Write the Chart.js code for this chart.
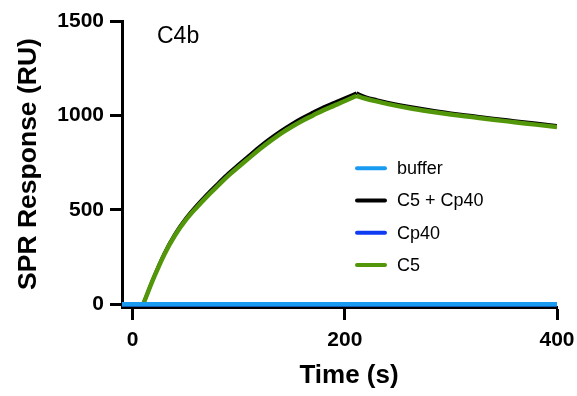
<!DOCTYPE html>
<html><head><meta charset="utf-8">
<script src="https://cdn.jsdelivr.net/npm/chart.js@4/dist/chart.umd.min.js"></script>
<style>html,body{margin:0;padding:0;background:#fff}#wrap{width:577px;height:396px}</style>
</head><body><div id="wrap"><canvas id="c" width="577" height="396"></canvas></div>
<script>
// ---- data ----
const seriesNames = ['buffer', 'C5 + Cp40', 'Cp40', 'C5'];
const bufferTime = [-10, 400];
const bufferValues = [0, 0];
const cp40Time = [-10, 400];
const cp40Values = [0, 0];
// association phase (injection) and dissociation phase (wash) for each binding series
const c5cp40AssocTime = [10, 20, 30, 40, 50, 60, 70, 80, 90, 100, 110, 120, 130, 140, 150, 160, 170, 180, 190, 200, 211];
const c5cp40AssocValues = [0, 143, 270, 372, 453, 520, 581, 637, 692, 741, 789, 836, 879, 919, 955, 987, 1016, 1044, 1068, 1092, 1118];
const c5cp40DissocTime = [211, 220, 230, 240, 260, 280, 300, 320, 340, 360, 380, 400];
const c5cp40DissocValues = [1118, 1097, 1082, 1069, 1047, 1028, 1012, 998, 984, 971, 958, 945];
const c5AssocTime = [10, 20, 30, 40, 50, 60, 70, 80, 90, 100, 110, 120, 130, 140, 150, 160, 170, 180, 190, 200, 211];
const c5AssocValues = [0, 140, 265, 365, 445, 510, 570, 625, 680, 728, 775, 822, 865, 905, 940, 972, 1000, 1028, 1052, 1076, 1104];
const c5DissocTime = [211, 220, 230, 240, 260, 280, 300, 320, 340, 360, 380, 400];
const c5DissocValues = [1104, 1088, 1074, 1061, 1039, 1021, 1005, 991, 977, 964, 951, 938];
const xTicks = [0, 200, 400];
const yTicks = [0, 500, 1000, 1500];
const panelLabel = 'C4b';
const xTitle = 'Time (s)';
const yTitle = 'SPR Response (RU)';

const colors = { 'buffer': '#1a9bf2', 'C5 + Cp40': '#000000', 'Cp40': '#0f3cf2', 'C5': '#52960a' };
const widths = { 'buffer': 4.5, 'C5 + Cp40': 3.5, 'Cp40': 4.5, 'C5': 4.5 };
const zip = (t, v) => t.map((x, i) => ({ x: x, y: v[i] }));

const mk = (name, t, v, order) => ({
  label: name, data: zip(t, v), borderColor: colors[name], borderWidth: widths[name], order: order,
  showLine: true, pointRadius: 0, cubicInterpolationMode: 'monotone', fill: false,
  borderCapStyle: 'butt', borderJoinStyle: 'round'
});

const datasets = [
  mk('buffer', bufferTime, bufferValues, 0),
  mk('C5', c5AssocTime, c5AssocValues, 1),
  mk('C5', c5DissocTime, c5DissocValues, 1),
  mk('C5 + Cp40', c5cp40AssocTime, c5cp40AssocValues, 2),
  mk('C5 + Cp40', c5cp40DissocTime, c5cp40DissocValues, 2),
  mk('Cp40', cp40Time, cp40Values, 3)
];

const overlay = {
  id: 'overlay',
  afterDatasetsDraw(chart) {
    const ctx = chart.ctx;
    ctx.save();
    ctx.fillStyle = '#000';
    ctx.textBaseline = 'middle';
    ctx.textAlign = 'left';
    ctx.font = '23px "Liberation Sans", Arial, sans-serif';
    ctx.fillText(panelLabel, 157, 37);
    ctx.font = '18px "Liberation Sans", Arial, sans-serif';
    const x0 = 357, x1 = 385, y0 = 168.3, dy = 32.2;
    seriesNames.forEach((name, i) => {
      const y = y0 + i * dy;
      ctx.strokeStyle = colors[name];
      ctx.lineWidth = 4;
      ctx.lineCap = 'round';
      ctx.beginPath(); ctx.moveTo(x0, y); ctx.lineTo(x1, y); ctx.stroke();
      ctx.fillStyle = '#000';
      ctx.fillText(name, 397, y + 1);
    });
    ctx.font = 'bold 26px "Liberation Sans", Arial, sans-serif';
    ctx.textAlign = 'center';
    ctx.fillText(xTitle, 349, 376);
    ctx.restore();
  }
};

const tickFont = { family: '"Liberation Sans", Arial, sans-serif', size: 21, weight: 'bold' };
const titleFont = { family: '"Liberation Sans", Arial, sans-serif', size: 26.5, weight: 'bold', lineHeight: 1 };

new Chart(document.getElementById('c'), {
  type: 'scatter',
  data: { datasets: datasets },
  plugins: [overlay],
  options: {
    responsive: false,
    animation: false,
    devicePixelRatio: 1,
    layout: { padding: { top: 21, right: 20, left: 0, bottom: 0 } },
    plugins: { legend: { display: false }, tooltip: { enabled: false } },
    scales: {
      x: {
        type: 'linear', min: -10, max: 400,
        afterBuildTicks: s => { s.ticks = xTicks.map(v => ({ value: v })); },
        afterFit: s => { s.height = 89; s.paddingLeft = 0; s.paddingRight = 0; },
        grid: { drawOnChartArea: false, tickLength: 13, tickWidth: 3, tickColor: '#000' },
        border: { color: '#000', width: 3 },
        ticks: { color: '#000', font: tickFont, padding: 8, maxRotation: 0, callback: v => String(v) },
        title: { display: false }
      },
      y: {
        type: 'linear', min: -15, max: 1500,
        afterBuildTicks: s => { s.ticks = yTicks.map(v => ({ value: v })); },
        afterFit: s => { s.width = 122; s.paddingTop = 0; s.paddingBottom = 0; },
        grid: { drawOnChartArea: false, tickLength: 12, tickWidth: 3, tickColor: '#000' },
        border: { color: '#000', width: 3 },
        ticks: { color: '#000', font: tickFont, padding: 6, callback: v => String(v) },
        title: { display: true, text: yTitle, color: '#000', font: titleFont, padding: { top: 15, bottom: 0 } }
      }
    }
  }
});
</script></body></html>
